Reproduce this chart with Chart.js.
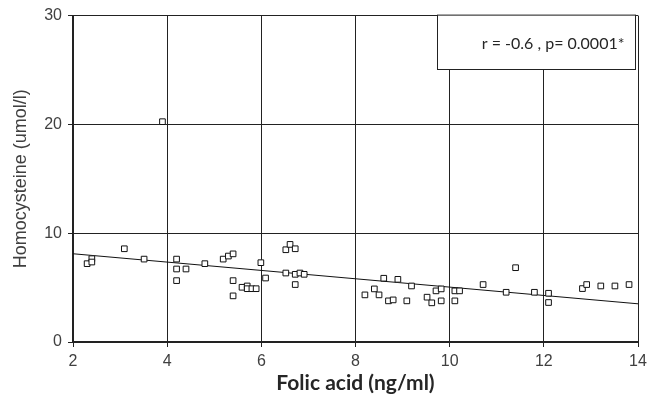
<!DOCTYPE html>
<html>
<head>
<meta charset="utf-8">
<script src="https://cdn.jsdelivr.net/npm/chart.js@4"></script>
<style>
  html, body { margin: 0; padding: 0; background: #ffffff; }
  #wrap { width: 657px; height: 397px; }
</style>
</head>
<body>
<div id="wrap"><canvas id="c" width="657" height="397"></canvas></div>
<script>
// Folic acid (ng/ml) per subject
const folicAcid = [2.30, 2.40, 2.40, 3.09, 3.51, 3.90, 4.20, 4.20, 4.40, 4.20,
  4.80, 5.19, 5.30, 5.40, 5.40, 5.40, 5.59, 5.70, 5.70, 5.80,
  5.89, 5.99, 6.09, 6.52, 6.61, 6.72, 6.52, 6.72, 6.72, 6.82,
  6.91, 8.20, 8.40, 8.50, 8.60, 8.70, 8.80, 8.90, 9.09, 9.19,
  9.52, 9.62, 9.71, 9.82, 9.82, 10.11, 10.11, 10.21, 10.71, 11.20,
  11.40, 11.80, 12.10, 12.10, 12.82, 12.91, 13.21, 13.51, 13.81];
// Homocysteine (umol/l) per subject
const homocysteine = [7.20, 7.66, 7.35, 8.57, 7.62, 20.25, 7.62, 6.71, 6.71, 5.64,
  7.20, 7.62, 7.90, 8.10, 5.64, 4.24, 5.03, 5.15, 4.90, 4.90,
  4.90, 7.29, 5.88, 8.48, 8.97, 8.57, 6.34, 6.22, 5.28, 6.34,
  6.22, 4.33, 4.88, 4.33, 5.86, 3.78, 3.87, 5.76, 3.78, 5.15,
  4.12, 3.60, 4.70, 4.88, 3.78, 4.70, 3.78, 4.70, 5.28, 4.57,
  6.83, 4.57, 4.48, 3.63, 4.91, 5.28, 5.15, 5.15, 5.28];
// Regression line end points
const trendX = [2, 14];
const trendY = [8.11, 3.51];
// Axis ticks
const xTicks = [2, 4, 6, 8, 10, 12, 14];
const yTicks = [0, 10, 20, 30];
const xTitle = 'Folic acid (ng/ml)';
const yTitle = 'Homocysteine (umol/l)';
const statText = 'r = -0.6 , p= 0.0001*';

const points = folicAcid.map((x, i) => ({ x: x, y: homocysteine[i] }));
const trend = trendX.map((x, i) => ({ x: x, y: trendY[i] }));

const statBox = {
  id: 'statBox',
  afterDatasetsDraw(chart) {
    const { ctx, chartArea, scales } = chart;
    const left = Math.round(scales.x.getPixelForValue(9.73)) + 0.5;
    const right = chartArea.right - 2.5;
    const top = chartArea.top - 0.5;
    const bottom = Math.round(scales.y.getPixelForValue(25.05)) + 0.5;
    ctx.save();
    ctx.fillStyle = '#ffffff';
    ctx.fillRect(left, top, right - left, bottom - top);
    ctx.strokeStyle = '#222222';
    ctx.lineWidth = 1;
    ctx.strokeRect(left, top, right - left, bottom - top);
    ctx.fillStyle = '#262626';
    ctx.font = '16px Lato';
    ctx.textAlign = 'right';
    ctx.textBaseline = 'middle';
    ctx.fillText(statText, right - 11, (top + bottom) / 2 + 2);
    ctx.restore();
  }
};

new Chart(document.getElementById('c'), {
  type: 'scatter',
  data: {
    datasets: [
      {
        label: 'Subjects',
        data: points,
        pointStyle: 'rect',
        pointRadius: 4,
        pointHoverRadius: 4,
        pointBorderWidth: 1,
        pointBorderColor: '#111111',
        pointBackgroundColor: '#ffffff'
      },
      {
        label: 'Trend',
        type: 'line',
        data: trend,
        borderColor: '#111111',
        borderWidth: 1,
        pointRadius: 0,
        fill: false
      }
    ]
  },
  options: {
    responsive: false,
    animation: false,
    devicePixelRatio: 1,
    layout: { padding: { top: 14, right: 19, left: 0, bottom: 0 } },
    plugins: { legend: { display: false }, tooltip: { enabled: false } },
    scales: {
      x: {
        type: 'linear',
        min: 2, max: 14,
        afterBuildTicks: (s) => { s.ticks = xTicks.map(v => ({ value: v })); },
        afterFit: (s) => { s.height = 55; },
        grid: { color: '#222222', lineWidth: 1, tickLength: 5, drawTicks: true },
        border: { color: '#222222', width: 2 },
        ticks: { color: '#404040', font: { family: 'Liberation Sans', size: 16 }, padding: 5, maxRotation: 0 },
        title: { display: true, text: xTitle, color: '#262626',
                 font: { family: 'Lato', size: 21, weight: 'bold', lineHeight: 1.2 },
                 padding: { top: 0, bottom: 1 } }
      },
      y: {
        type: 'linear',
        min: 0, max: 30,
        afterBuildTicks: (s) => { s.ticks = yTicks.map(v => ({ value: v })); },
        afterFit: (s) => { s.width = 73; },
        grid: { color: '#222222', lineWidth: 1, tickLength: 5, drawTicks: true },
        border: { color: '#222222', width: 2 },
        ticks: { color: '#404040', font: { family: 'Liberation Sans', size: 16 }, padding: 6 },
        title: { display: true, text: yTitle, color: '#404040',
                 font: { family: 'Liberation Sans', size: 18, lineHeight: 1.2 },
                 padding: { top: 10, bottom: 0 } }
      }
    }
  },
  plugins: [statBox]
});
</script>
</body>
</html>
